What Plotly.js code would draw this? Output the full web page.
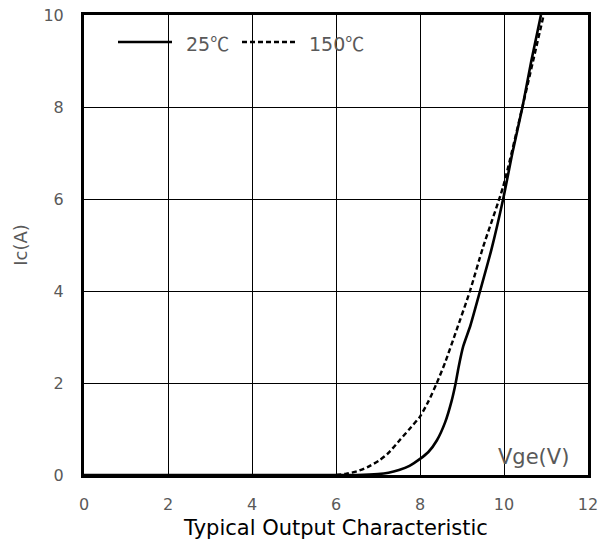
<!DOCTYPE html>
<html>
<head>
<meta charset="utf-8">
<script src="https://cdn.plot.ly/plotly-3.0.1.min.js"></script>
<style>html,body{margin:0;padding:0;background:#fff;}#chart{width:609px;height:548px;}</style>
</head>
<body>
<div id="chart"></div>
<script>
// 25°C curve (solid)
const vge25 = [0, 6, 6.5, 7.0, 7.25, 7.5, 7.75, 8.0, 8.2, 8.4, 8.6, 8.75, 8.85, 8.92, 9.03, 9.2, 9.43, 9.7, 9.98, 10.2, 10.44, 10.65, 10.88];
const ic25  = [0, 0, 0, 0.02, 0.05, 0.11, 0.2, 0.35, 0.5, 0.75, 1.15, 1.6, 2.0, 2.35, 2.8, 3.25, 4.0, 4.9, 6.0, 7.0, 8.0, 9.0, 10.0];
// 150°C curve (dashed)
const vge150 = [6.0, 6.25, 6.5, 6.75, 7.05, 7.25, 7.52, 7.75, 8.0, 8.2, 8.4, 8.6, 8.87, 9.19, 9.5, 9.98, 10.42, 10.94];
const ic150  = [0, 0.03, 0.08, 0.17, 0.33, 0.48, 0.76, 1.0, 1.27, 1.6, 2.0, 2.45, 3.15, 4.0, 4.95, 6.27, 7.93, 9.98];
const seriesNames = ['25℃', '150℃'];
const xTicks = [0, 2, 4, 6, 8, 10, 12];
const yTicks = [0, 2, 4, 6, 8, 10];

const gray = '#595959';
const tickFamily = 'DejaVu Sans';
const fmtName = s => s.replace('℃', "<span style='font-family:Noto Sans CJK SC'>℃</span>");

const traces = [
  {x: vge25, y: ic25, mode: 'lines', name: seriesNames[0], line: {color: '#000', width: 2.6, shape: 'spline', smoothing: 0.6}, showlegend: false, hoverinfo: 'skip'},
  {x: vge150, y: ic150, mode: 'lines', name: seriesNames[1], line: {color: '#000', width: 2.4, dash: '5px,3px', shape: 'spline', smoothing: 0.6}, showlegend: false, hoverinfo: 'skip'}
];

const legY = (475 - 42) / 460;
const layout = {
  width: 609, height: 548,
  margin: {l: 84, r: 21, t: 15, b: 73},
  paper_bgcolor: '#fff', plot_bgcolor: '#fff',
  showlegend: false,
  xaxis: {
    range: [0, 12], tickvals: xTicks, ticktext: xTicks.map(String),
    showgrid: true, gridcolor: '#000', gridwidth: 1,
    zeroline: false, showline: true, linecolor: '#000', linewidth: 3, mirror: true,
    ticks: '', ticklabelstandoff: 13,
    tickfont: {family: tickFamily, size: 16, color: gray},
    title: {text: 'Typical Output Characteristic', font: {family: 'DejaVu Sans', size: 21, color: '#000'}, standoff: 8}
  },
  yaxis: {
    range: [0, 10], tickvals: yTicks, ticktext: yTicks.map(String),
    showgrid: true, gridcolor: '#000', gridwidth: 1,
    zeroline: false, showline: true, linecolor: '#000', linewidth: 3, mirror: true,
    ticks: '', ticklabelstandoff: 14,
    tickfont: {family: tickFamily, size: 16, color: gray},
    title: {text: 'Ic(A)', font: {family: 'DejaVu Sans', size: 18, color: gray}, standoff: 12}
  },
  shapes: [
    {type: 'line', xref: 'paper', yref: 'paper', x0: (118-84)/504, x1: (172-84)/504, y0: legY, y1: legY, line: {color: '#000', width: 2.6}},
    {type: 'line', xref: 'paper', yref: 'paper', x0: (242-84)/504, x1: (296-84)/504, y0: legY, y1: legY, line: {color: '#000', width: 2.4, dash: '5px,3px'}}
  ],
  annotations: [
    {xref: 'paper', yref: 'paper', x: (184-84)/504, y: legY, xanchor: 'left', yanchor: 'middle', text: fmtName(seriesNames[0]), showarrow: false, font: {family: tickFamily, size: 19, color: gray}},
    {xref: 'paper', yref: 'paper', x: (307-84)/504, y: legY, xanchor: 'left', yanchor: 'middle', text: fmtName(seriesNames[1]), showarrow: false, font: {family: tickFamily, size: 19, color: gray}},
    {xref: 'paper', yref: 'paper', x: (533-84)/504, y: (475-457)/460, xanchor: 'center', yanchor: 'middle', text: 'Vge(V)', showarrow: false, font: {family: tickFamily, size: 21, color: gray}}
  ]
};

Plotly.newPlot('chart', traces, layout, {displayModeBar: false, staticPlot: true});
</script>
</body>
</html>
